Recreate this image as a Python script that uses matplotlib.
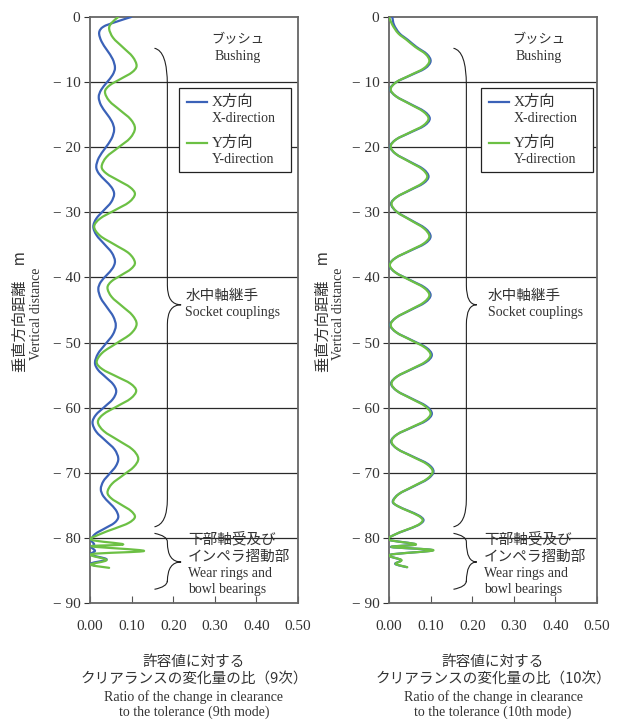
import matplotlib
matplotlib.use("Agg")
import matplotlib.pyplot as plt
from matplotlib.path import Path
from matplotlib.patches import PathPatch, Rectangle

SERIF = ['Liberation Serif', 'Noto Sans CJK JP']
JP = ['Noto Sans CJK JP', 'Liberation Serif']
TXT = '#333333'
BLUE = '#3b62b8'
GREEN = '#6cc044'

# 9th mode (left panel)
depth_x9 = [0, -0.8, -1.5, -2.4, -3.75, -5.1, -6.45, -7.8, -8.9, -10.05, -11.2, -12.3,
            -13.55, -14.8, -16.05, -17.3, -18.7, -20.15, -21.6, -23.0, -24.05, -25.1, -26.15, -27.2,
            -28.45, -29.7, -30.95, -32.2, -33.5, -34.85, -36.2, -37.5, -38.6, -39.65, -40.7, -41.8,
            -43.2, -44.6, -46.0, -47.4, -48.8, -50.25, -51.7, -53.1, -54.2, -55.3, -56.4, -57.5,
            -58.7, -59.9, -61.1, -62.3, -63.7, -65.05, -66.4, -67.8, -69.0, -70.15, -71.3, -72.5,
            -73.6, -74.65, -75.7, -76.8, -77.7, -78.55, -79.4, -80.3,
            -81.0, -81.4, -82.0, -82.6, -83.3, -83.9, -84.3]
ratio_x9 = [0.099, 0.060, 0.032, 0.022, 0.0276, 0.041, 0.0544, 0.060, 0.0543, 0.0405, 0.0267, 0.021,
            0.0264, 0.0395, 0.0526, 0.058, 0.0517, 0.0365, 0.0213, 0.015, 0.0213, 0.0365, 0.0517, 0.058,
            0.0507, 0.033, 0.0153, 0.008, 0.0156, 0.034, 0.0524, 0.060, 0.0542, 0.040, 0.0258, 0.020,
            0.0261, 0.041, 0.0559, 0.062, 0.0547, 0.037, 0.0193, 0.012, 0.0194, 0.0375, 0.0556, 0.063,
            0.0547, 0.0345, 0.0143, 0.006, 0.0151, 0.037, 0.0589, 0.068, 0.0619, 0.047, 0.0321, 0.026,
            0.0321, 0.047, 0.0619, 0.068, 0.0585, 0.0355, 0.0125, 0.003,
            0.010, 0.003, 0.012, 0.002, 0.040, 0.003, 0.012]

depth_y9 = [0, -0.9, -1.8, -3.2, -4.65, -6.1, -7.5, -8.5, -9.5, -10.5, -11.5,
            -12.9, -14.3, -15.7, -17.1, -18.6, -20.05, -21.5, -23.0, -24.05, -25.1, -26.15, -27.2,
            -28.45, -29.7, -30.95, -32.2, -33.6, -34.95, -36.3, -37.7, -38.7, -39.65, -40.6, -41.6,
            -43.0, -44.4, -45.8, -47.2, -48.65, -50.1, -51.55, -53.0, -54.1, -55.2, -56.3, -57.4,
            -58.6, -59.8, -61.0, -62.2, -63.6, -65.0, -66.4, -67.8, -69.1, -70.4, -71.7, -73.0,
            -73.95, -74.9, -75.85, -76.8, -77.7, -78.55, -79.4, -80.3,
            -81.0, -81.3, -82.0, -82.5, -83.4, -84.1, -84.6]
ratio_y9 = [0.068, 0.052, 0.046, 0.0556, 0.079, 0.1024, 0.112, 0.1009, 0.074, 0.0471, 0.036,
            0.0465, 0.072, 0.0975, 0.108, 0.0963, 0.068, 0.0397, 0.028, 0.0397, 0.068, 0.0963, 0.108,
            0.0937, 0.059, 0.0243, 0.010, 0.0243, 0.059, 0.0937, 0.108, 0.0984, 0.075, 0.0516, 0.042,
            0.0522, 0.077, 0.1018, 0.112, 0.098, 0.064, 0.030, 0.016, 0.0299, 0.0635, 0.0971, 0.111,
            0.0976, 0.065, 0.0324, 0.019, 0.0332, 0.0675, 0.1018, 0.116, 0.1052, 0.079, 0.0528, 0.042,
            0.0516, 0.075, 0.0984, 0.108, 0.093, 0.060, 0.025, 0.004,
            0.080, 0.004, 0.130, 0.004, 0.040, 0.002, 0.046]

# 10th mode (right panel), X and Y share depths
depth_10 = [0, -1.2, -2.5, -3.5, -4.6, -5.7, -6.8, -7.9, -8.95, -10.0, -11.1,
            -12.2, -13.35, -14.5, -15.6, -16.7, -17.75, -18.8, -19.9, -21.05, -22.2, -23.35, -24.5,
            -25.55, -26.6, -27.65, -28.7, -29.95, -31.2, -32.45, -33.7, -34.8, -35.9, -37.0, -38.1,
            -39.25, -40.4, -41.55, -42.7, -43.85, -45.0, -46.15, -47.3, -48.45, -49.6, -50.75, -51.9,
            -53.0, -54.1, -55.2, -56.3, -57.45, -58.6, -59.75, -60.9, -62.0, -63.05, -64.1, -65.2,
            -66.35, -67.5, -68.65, -69.8, -70.95, -72.1, -73.25, -74.4, -75.1, -75.85, -76.6, -77.3,
            -78.05, -78.8, -79.55, -80.3,
            -81.0, -81.4, -81.9, -82.6, -83.4, -84.0, -84.5]
ratio_y10 = [0.0, 0.008, 0.022, 0.042, 0.063, 0.088, 0.097, 0.0834, 0.0505, 0.0176, 0.004,
             0.0173, 0.0495, 0.0817, 0.095, 0.0817, 0.0495, 0.0173, 0.004, 0.0168, 0.048, 0.0792, 0.092,
             0.0794, 0.049, 0.0186, 0.006, 0.0193, 0.0515, 0.0837, 0.097, 0.0831, 0.0495, 0.0159, 0.002,
             0.0159, 0.0495, 0.0831, 0.097, 0.0834, 0.0505, 0.0176, 0.004, 0.018, 0.052, 0.086, 0.100,
             0.0863, 0.053, 0.0197, 0.006, 0.0197, 0.053, 0.0863, 0.100, 0.0863, 0.053, 0.0197, 0.006,
             0.0205, 0.0555, 0.0905, 0.105, 0.0911, 0.0575, 0.0239, 0.010, 0.0204, 0.0455, 0.0706, 0.081,
             0.069, 0.040, 0.012, 0.0,
             0.065, 0.006, 0.107, 0.002, 0.030, 0.016, 0.044]
ratio_x10 = [0.008, 0.012, 0.025, 0.045, 0.066, 0.091, 0.100, 0.0864, 0.052, 0.0176, 0.003,
             0.0173, 0.051, 0.0847, 0.098, 0.0847, 0.051, 0.0173, 0.003, 0.0168, 0.0495, 0.0822, 0.095,
             0.0824, 0.0505, 0.0186, 0.005, 0.0193, 0.053, 0.0867, 0.100, 0.0861, 0.051, 0.0159, 0.001,
             0.0159, 0.051, 0.0861, 0.100, 0.0864, 0.052, 0.0176, 0.003, 0.018, 0.0535, 0.089, 0.103,
             0.0893, 0.0545, 0.0197, 0.005, 0.0197, 0.0545, 0.0893, 0.103, 0.0893, 0.0545, 0.0197, 0.005,
             0.0205, 0.057, 0.0935, 0.107, 0.0931, 0.059, 0.0239, 0.009, 0.0204, 0.047, 0.0726, 0.083,
             0.070, 0.041, 0.012, 0.0,
             0.064, 0.005, 0.105, 0.002, 0.029, 0.015, 0.043]

x_ticks = [0.0, 0.1, 0.2, 0.3, 0.4, 0.5]
y_ticks = [0, -10, -20, -30, -40, -50, -60, -70, -80, -90]


def smooth_line(ax, xs, ys, color):
    # draw the read points as a smooth (Catmull-Rom style) bezier path in data coords
    pts = list(zip(xs, ys))
    n = len(pts)
    verts = [pts[0]]
    codes = [Path.MOVETO]
    for i in range(n - 1):
        p0 = pts[i - 1] if i > 0 else pts[i]
        p1 = pts[i]
        p2 = pts[i + 1]
        p3 = pts[i + 2] if i + 2 < n else p2
        c1 = (p1[0] + (p2[0] - p0[0]) / 6, p1[1] + (p2[1] - p0[1]) / 6)
        c2 = (p2[0] - (p3[0] - p1[0]) / 6, p2[1] - (p3[1] - p1[1]) / 6)
        verts += [c1, c2, p2]
        codes += [Path.CURVE4] * 3
    ax.add_patch(PathPatch(Path(verts, codes), fill=False, ec=color, lw=1.6,
                           joinstyle='round', capstyle='round', zorder=4))


def brace(ax, x0, xv, xt, y_top, y_join, y_tip, y_bot, y_end):
    # curly brace: ends at x0, spine at xv, tip at xt
    verts = [(x0, y_top), (xv, y_top - 0.4), (xv, y_join),
             (xv, y_tip + 3.0), (xv, y_tip), (xt, y_tip),
             (xv, y_tip), (xv, y_tip - 3.0),
             (xv, y_bot), (xv, y_end + 0.4), (x0, y_end)]
    codes = [Path.MOVETO, Path.CURVE3, Path.CURVE3,
             Path.LINETO, Path.CURVE3, Path.CURVE3,
             Path.CURVE3, Path.CURVE3,
             Path.LINETO, Path.CURVE3, Path.CURVE3]
    ax.add_patch(PathPatch(Path(verts, codes), fill=False, lw=0.8, ec='#222222', zorder=3))


def panel(ax, jp_mode, en_mode, curves, dx):
    for vals, deps, col in curves:
        smooth_line(ax, vals, deps, col)

    ax.set_xlim(0, 0.5)
    ax.set_ylim(-90, 0)
    ax.set_xticks(x_ticks)
    ax.set_xticklabels([f'{t:.2f}' for t in x_ticks], family=SERIF, fontsize=11, color=TXT)
    ax.set_yticks(y_ticks)
    ax.set_yticklabels(['0' if t == 0 else f'\u2212 {abs(t)}' for t in y_ticks],
                       family=SERIF, fontsize=11, color=TXT)
    ax.tick_params(axis='x', direction='in', length=5, pad=12, color='#555555')
    ax.tick_params(axis='y', direction='out', length=4, pad=3, color='#333333')
    for sp in ax.spines.values():
        sp.set_color('#666666')
        sp.set_linewidth(1.3)
    for t in y_ticks[1:-1]:
        ax.axhline(t, color='#2a2a2a', lw=0.9, zorder=1)

    # legend box
    ax.add_patch(Rectangle((0.214 + dx, -23.8), 0.269, 12.9, fc='white', ec='#222222', lw=0.9, zorder=5))
    ax.plot([0.233 + dx, 0.281 + dx], [-13.1, -13.1], color=BLUE, lw=1.6, zorder=6)
    ax.plot([0.233 + dx, 0.281 + dx], [-19.4, -19.4], color=GREEN, lw=1.6, zorder=6)
    ax.text(0.292 + dx, -13.1, 'X方向', family=SERIF, fontsize=11, color=TXT, va='center', zorder=6)
    ax.text(0.292 + dx, -15.6, 'X-direction', family=SERIF, fontsize=10, color=TXT, va='center', zorder=6)
    ax.text(0.292 + dx, -19.4, 'Y方向', family=SERIF, fontsize=11, color=TXT, va='center', zorder=6)
    ax.text(0.292 + dx, -21.9, 'Y-direction', family=SERIF, fontsize=10, color=TXT, va='center', zorder=6)

    # annotations
    ax.text(0.355 + dx / 2, -3.4, 'ブッシュ', family=JP, fontsize=9.5, color=TXT, ha='center', va='center')
    ax.text(0.355 + dx / 2, -6.1, 'Bushing', family=SERIF, fontsize=10, color=TXT, ha='center', va='center')
    ax.text(0.229 + dx, -42.9, '水中軸継手', family=JP, fontsize=10.5, color=TXT, va='center')
    ax.text(0.229 + dx, -45.4, 'Socket couplings', family=SERIF, fontsize=10, color=TXT, va='center')
    ax.text(0.236 - dx, -80.2, '下部軸受及び', family=JP, fontsize=10.5, color=TXT, va='center', zorder=3)
    ax.text(0.236 - dx, -82.9, 'インペラ摺動部', family=JP, fontsize=10.5, color=TXT, va='center')
    ax.text(0.236 - dx, -85.4, 'Wear rings and', family=SERIF, fontsize=10, color=TXT, va='center')
    ax.text(0.236 - dx, -87.9, 'bowl bearings', family=SERIF, fontsize=10, color=TXT, va='center')

    brace(ax, 0.155, 0.186, 0.219 - dx, -4.8, -10.5, -44.2, -74.0, -78.3)
    brace(ax, 0.155, 0.186, 0.219 - dx, -79.3, -80.6, -83.7, -86.6, -87.9)

    # axis titles
    cx = 0.5
    ax.text(cx, -0.10, '許容値に対する', transform=ax.transAxes, family=JP, fontsize=10.5,
            color=TXT, ha='center', va='center')
    ax.text(cx, -0.131, f'クリアランスの変化量の比（{jp_mode}）', transform=ax.transAxes, family=JP,
            fontsize=10.5, color=TXT, ha='center', va='center')
    ax.text(cx, -0.160, 'Ratio of the change in clearance', transform=ax.transAxes, family=SERIF,
            fontsize=10, color=TXT, ha='center', va='center')
    ax.text(cx, -0.186, f'to the tolerance ({en_mode})', transform=ax.transAxes, family=SERIF,
            fontsize=10, color=TXT, ha='center', va='center')


fig = plt.figure(figsize=(6.21, 7.2), dpi=100)
ax1 = fig.add_axes([90 / 621, 117 / 720, 208 / 621, 586 / 720])
ax2 = fig.add_axes([389 / 621, 117 / 720, 208 / 621, 586 / 720])

panel(ax1, '9次', '9th mode', [(ratio_x9, depth_x9, BLUE), (ratio_y9, depth_y9, GREEN)], 0.0)
panel(ax2, '10次', '10th mode', [(ratio_x10, depth_10, BLUE), (ratio_y10, depth_10, GREEN)], 0.008)

for xj, xe in [(20, 37), (323, 339)]:
    fig.text(xj / 621, 1 - 312 / 720, '垂直方向距離　m', family=JP, fontsize=11, color=TXT,
             rotation=90, ha='center', va='center')
    fig.text(xe / 621, 1 - 314 / 720, 'Vertical distance', family=SERIF, fontsize=10, color=TXT,
             rotation=90, ha='center', va='center')

fig.savefig('out.png', dpi=100, facecolor='white')
